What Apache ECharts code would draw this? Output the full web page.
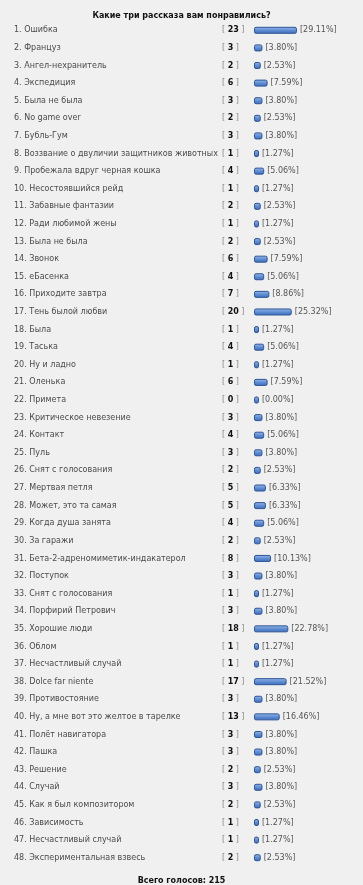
<!DOCTYPE html>
<html>
<head>
<meta charset="utf-8">
<script src="https://cdn.jsdelivr.net/npm/echarts@6/dist/echarts.min.js"></script>
<style>
  html, body { margin: 0; padding: 0; background: #f0f0f0; }
  #main { width: 363px; height: 885px; }
</style>
</head>
<body>
<div id="main"></div>
<script>
var pollTitle = 'Какие три рассказа вам понравились?';
var totalVotes = 215;

var stories = [
  'Ошибка', 'Француз', 'Ангел-нехранитель', 'Экспедиция', 'Была не была',
  'No game over', 'Бубль-Гум', 'Воззвание о двуличии защитников животных',
  'Пробежала вдруг черная кошка', 'Несостоявшийся рейд', 'Забавные фантазии',
  'Ради любимой жены', 'Была не была', 'Звонок', 'еБасенка', 'Приходите завтра',
  'Тень былой любви', 'Была', 'Таська', 'Ну и ладно', 'Оленька', 'Примета',
  'Критическое невезение', 'Контакт', 'Пуль', 'Снят с голосования',
  'Мертвая петля', 'Может, это та самая', 'Когда душа занята', 'За гаражи',
  'Бета-2-адреномиметик-индакатерол', 'Поступок', 'Снят с голосования',
  'Порфирий Петрович', 'Хорошие люди', 'Облом', 'Несчастливый случай',
  'Dolce far niente', 'Противостояние', 'Ну, а мне вот это желтое в тарелке',
  'Полёт навигатора', 'Пашка', 'Решение', 'Случай', 'Как я был композитором',
  'Зависимость', 'Несчастливый случай', 'Экспериментальная взвесь'
];

var votes = [
  23, 3, 2, 6, 3, 2, 3, 1, 4, 1,
  2, 1, 2, 6, 4, 7, 20, 1, 4, 1,
  6, 0, 3, 4, 3, 2, 5, 5, 4, 2,
  8, 3, 1, 3, 18, 1, 1, 17, 3, 13,
  3, 3, 2, 3, 2, 1, 1, 2
];

var percents = [
  29.11, 3.80, 2.53, 7.59, 3.80, 2.53, 3.80, 1.27, 5.06, 1.27,
  2.53, 1.27, 2.53, 7.59, 5.06, 8.86, 25.32, 1.27, 5.06, 1.27,
  7.59, 0.00, 3.80, 5.06, 3.80, 2.53, 6.33, 6.33, 5.06, 2.53,
  10.13, 3.80, 1.27, 3.80, 22.78, 1.27, 1.27, 21.52, 3.80, 16.46,
  3.80, 3.80, 2.53, 3.80, 2.53, 1.27, 1.27, 2.53
];

var categories = stories.map(function (s, i) { return (i + 1) + '. ' + s; });

var myChart = echarts.init(document.getElementById('main'));
var font = 'DejaVu Sans, Verdana, sans-serif';

option = {
  backgroundColor: '#f0f0f0',
  animation: false,
  title: [
    {
      text: pollTitle,
      left: 'center',
      top: 7,
      textStyle: { fontFamily: font, fontSize: 8, fontWeight: 'bold', color: '#111' }
    },
    {
      text: 'Всего голосов: ' + totalVotes,
      left: 'center',
      top: 872,
      textStyle: { fontFamily: font, fontSize: 8, fontWeight: 'bold', color: '#111' }
    }
  ],
  grid: { left: 254, top: 21.5, width: 85, height: 845 },
  xAxis: {
    type: 'value',
    min: -2.4,
    max: 60,
    startValue: -2.4,
    show: false
  },
  yAxis: {
    type: 'category',
    inverse: true,
    data: categories,
    axisLine: { show: false },
    axisTick: { show: false },
    axisLabel: {
      align: 'left',
      margin: 240,
      formatter: function (value, idx) {
        return '{n|' + value + '}{c|[ }{b|' + votes[idx] + '}{c| ]}';
      },
      rich: {
        n: { width: 208, fontFamily: font, fontSize: 8, color: '#4a4a4a' },
        c: { fontFamily: font, fontSize: 8, color: '#888' },
        b: { fontFamily: font, fontSize: 8, fontWeight: 'bold', color: '#111' }
      }
    }
  },
  series: [
    {
      type: 'bar',
      data: percents,
      barWidth: 7,
      barMinHeight: 5,
      itemStyle: {
        borderRadius: 1.5,
        borderColor: '#2c5595',
        borderWidth: 1,
        color: new echarts.graphic.LinearGradient(0, 0, 0, 1, [
          { offset: 0, color: '#9dbcea' },
          { offset: 0.5, color: '#5f8dd4' },
          { offset: 1, color: '#3d6cb8' }
        ])
      },
      label: {
        show: true,
        position: 'right',
        distance: 3,
        fontFamily: font,
        fontSize: 8,
        color: '#555',
        formatter: function (p) { return '[' + percents[p.dataIndex].toFixed(2) + '%]'; }
      }
    }
  ]
};

myChart.setOption(option);
</script>
</body>
</html>
